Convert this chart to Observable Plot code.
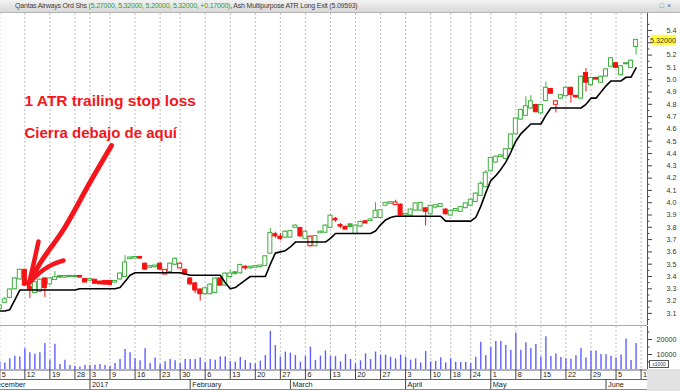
<!DOCTYPE html>
<html><head><meta charset="utf-8">
<script src="https://cdn.jsdelivr.net/npm/d3@7"></script>
<script src="https://cdn.jsdelivr.net/npm/@observablehq/plot@0.6"></script>
<style>
html,body{margin:0;padding:0;background:#fff;}
#wrap{position:relative;width:680px;height:391px;overflow:hidden;font-family:"Liberation Sans",Arial,sans-serif;background:#fff;}
#title{position:absolute;left:0;top:0;width:680px;height:12px;background:linear-gradient(#f3f3f3,#d8d8d8);border-bottom:1px solid #b4b4b4;font-size:7px;line-height:12px;color:#3c3c3c;white-space:nowrap;letter-spacing:-0.2px;}
#title .t{position:absolute;left:15px;top:0;}
#title .gr{color:#2f9e2f;}
#title .ic{position:absolute;right:6px;top:0;color:#666;font-size:7px;letter-spacing:3px;}
.pane{position:absolute;left:0;}
#sep{position:absolute;left:0;top:325px;width:647px;height:1px;background:#a8a8a8;}
#gray{position:absolute;left:647px;top:369px;width:33px;height:22px;background:#e2e2e2;}
#xk{position:absolute;left:649px;top:360px;width:18px;height:6px;border:1px solid #555;font-size:5px;line-height:6px;text-align:center;color:#333;background:#fff;}
</style></head>
<body>
<div id="wrap">
  <div id="title"><span class="t"><span id="t1"></span><span id="t2" class="gr"></span><span id="t3"></span></span><span class="ic">□×</span></div>
  <div id="p1" class="pane" style="top:13px"></div>
  <div id="sep"></div>
  <div id="p2" class="pane" style="top:326px"></div>
  <div id="p3" class="pane" style="top:369px"></div>
  <div id="gray"></div>
  <div id="xk">x1000</div>
</div>
<script>
// ---------- DATA ----------
const holidays = ["2016-12-26","2016-12-27","2017-01-02","2017-01-26","2017-04-14","2017-04-17","2017-04-25"];
const seriesName = "Qantas Airways Ord Shs";
const indicatorName = "Ash Multipurpose ATR Long Exit";
const monthNames = ["2017","February","March","April","May","June","July","August","September","October","November","December"];

const open = [3.14,3.19,3.23,3.30,3.38,3.45,3.31,3.27,3.28,3.38,
3.34,3.375,3.40,3.395,3.40,3.40,3.40,3.375,3.37,3.37,
3.355,3.36,3.36,3.355,3.38,3.40,3.545,3.55,3.555,3.50,
3.475,3.48,3.50,3.42,3.44,3.50,3.47,3.45,3.38,3.34,
3.29,3.26,3.26,3.27,3.38,3.33,3.40,3.43,3.43,3.475,
3.47,3.475,3.48,3.49,3.59,3.74,3.72,3.72,3.72,3.80,
3.79,3.71,3.65,3.65,3.755,3.76,3.80,3.865,3.815,3.80,
3.82,3.75,3.81,3.845,3.855,3.88,3.88,3.98,3.995,3.985,
3.98,3.90,3.90,3.94,3.94,3.95,3.91,3.965,3.97,3.94,
3.90,3.935,3.93,3.96,3.98,4.01,4.06,4.13,4.26,4.33,
4.375,4.36,4.44,4.56,4.68,4.71,4.77,4.79,4.73,4.83,
4.92,4.80,4.85,4.87,4.93,4.865,4.85,5.05,4.96,5.01,
4.98,5.03,5.11,5.13,5.04,5.13,5.10,5.27];
const high = [3.17,3.23,3.30,3.39,3.46,3.46,3.32,3.36,3.38,3.39,
3.39,3.44,3.405,3.405,3.41,3.405,3.41,3.38,3.38,3.375,
3.36,3.365,3.365,3.365,3.43,3.57,3.56,3.56,3.56,3.51,
3.49,3.49,3.51,3.455,3.51,3.55,3.51,3.46,3.39,3.35,
3.30,3.31,3.34,3.39,3.39,3.43,3.45,3.44,3.50,3.49,
3.48,3.49,3.49,3.57,3.79,3.76,3.75,3.77,3.77,3.82,
3.80,3.77,3.73,3.73,3.77,3.82,3.90,3.88,3.83,3.81,
3.83,3.82,3.85,3.85,3.87,4.00,3.94,4.00,4.01,4.02,
3.99,3.91,3.95,4.00,4.00,3.96,3.98,3.98,3.99,3.95,
3.94,3.95,3.97,4.00,4.03,4.08,4.17,4.26,4.37,4.38,
4.39,4.44,4.56,4.69,4.76,4.86,4.87,4.80,4.80,4.98,
4.93,4.83,4.88,4.94,4.94,4.87,5.03,5.09,5.02,5.02,
5.03,5.09,5.18,5.14,5.11,5.14,5.16,5.32];
const low = [3.12,3.18,3.22,3.29,3.37,3.32,3.22,3.26,3.27,3.23,
3.33,3.37,3.385,3.385,3.39,3.39,3.39,3.35,3.365,3.34,
3.335,3.33,3.33,3.35,3.37,3.39,3.54,3.545,3.54,3.45,
3.47,3.47,3.45,3.415,3.43,3.49,3.46,3.41,3.33,3.26,
3.20,3.25,3.25,3.26,3.32,3.32,3.39,3.41,3.42,3.45,
3.46,3.47,3.47,3.48,3.58,3.71,3.69,3.71,3.71,3.79,
3.72,3.70,3.64,3.64,3.75,3.75,3.79,3.84,3.79,3.78,
3.80,3.74,3.80,3.83,3.85,3.87,3.87,3.97,3.99,3.98,
3.89,3.89,3.89,3.93,3.93,3.81,3.90,3.95,3.965,3.90,
3.89,3.93,3.92,3.95,3.97,4.00,4.05,4.12,4.25,4.32,
4.37,4.35,4.43,4.55,4.67,4.70,4.76,4.73,4.72,4.82,
4.88,4.73,4.84,4.86,4.81,4.85,4.84,4.90,4.95,5.00,
4.97,5.02,5.10,5.09,5.03,5.12,5.09,5.20];
const close = [3.16,3.21,3.29,3.38,3.45,3.33,3.30,3.35,3.37,3.31,
3.38,3.39,3.395,3.40,3.40,3.40,3.395,3.355,3.375,3.345,
3.34,3.338,3.335,3.36,3.42,3.51,3.55,3.555,3.55,3.46,
3.48,3.485,3.46,3.45,3.50,3.54,3.50,3.42,3.34,3.29,
3.26,3.30,3.33,3.38,3.33,3.42,3.42,3.425,3.49,3.47,
3.475,3.48,3.485,3.56,3.75,3.73,3.71,3.76,3.765,3.81,
3.73,3.76,3.72,3.725,3.76,3.81,3.89,3.86,3.81,3.785,
3.805,3.81,3.84,3.835,3.86,3.93,3.935,3.995,4.00,3.998,
3.90,3.905,3.94,3.99,3.995,3.93,3.97,3.975,3.985,3.91,
3.93,3.945,3.96,3.99,4.02,4.07,4.15,4.24,4.36,4.37,
4.38,4.43,4.55,4.68,4.75,4.78,4.82,4.74,4.79,4.93,
4.89,4.82,4.87,4.93,4.88,4.86,5.02,4.98,5.01,5.005,
5.02,5.08,5.17,5.10,5.105,5.13,5.15,5.32];
const volume = [5000,4400,7100,8900,8400,13800,11100,10200,11100,17300,
6200,16900,3300,6200,2700,2200,1600,2700,2700,2900,
3300,2700,2200,4000,6700,13300,11100,7100,5800,13800,
4000,7600,3300,5100,6700,5800,4000,6700,6700,6700,
7600,4900,6700,6200,8400,8400,5300,4900,8000,6000,
4200,3600,5600,9300,25300,16000,8200,11600,10900,9300,
4900,8700,14900,6000,8900,12400,8700,8700,5100,10000,
6700,3800,5800,10400,6700,11600,9600,9600,8200,7100,
9600,8200,6200,7100,4400,12000,5100,5300,7800,4400,
7100,4900,4700,4700,4000,8200,18200,9300,14700,18700,
18700,16000,12900,24200,12900,17800,14000,16700,8400,21800,
8700,10400,8000,7100,6900,9100,14000,7600,12000,12400,
10000,9800,8900,7600,9600,20400,6000,17300];
const stop = [3.12,3.12,3.13,3.21,3.29,3.29,3.29,3.29,3.29,3.29,
3.29,3.29,3.29,3.29,3.29,3.29,3.30,3.30,3.30,3.30,
3.30,3.30,3.30,3.30,3.31,3.36,3.41,3.43,3.43,3.43,
3.43,3.43,3.43,3.43,3.43,3.43,3.43,3.42,3.41,3.41,
3.41,3.41,3.41,3.41,3.41,3.35,3.30,3.31,3.34,3.37,
3.40,3.40,3.40,3.40,3.50,3.59,3.60,3.61,3.64,3.68,
3.68,3.68,3.68,3.68,3.68,3.68,3.71,3.75,3.75,3.75,
3.75,3.75,3.75,3.75,3.75,3.77,3.82,3.86,3.88,3.89,
3.89,3.89,3.89,3.89,3.89,3.89,3.89,3.89,3.89,3.85,
3.85,3.85,3.85,3.85,3.85,3.88,3.97,4.08,4.18,4.22,
4.27,4.33,4.41,4.50,4.56,4.60,4.64,4.64,4.64,4.71,
4.77,4.77,4.77,4.77,4.77,4.77,4.77,4.80,4.85,4.85,
4.90,4.95,4.99,4.99,4.99,5.02,5.02,5.09593];

const priceTicks = [3.1,3.2,3.3,3.4,3.5,3.6,3.7,3.8,3.9,4.0,4.1,4.2,4.3,4.4,4.5,4.6,4.7,4.8,4.9,5.0,5.1,5.2,5.3,5.4];
const priceMinorTicks = [3.05,3.15,3.25,3.35,3.45,3.55,3.65,3.75,3.85,3.95,4.05,4.15,4.25,4.35,4.45,4.55,4.65,4.75,4.85,4.95,5.05,5.15,5.25,5.35,5.45];
const volumeTicks = [10000,20000];
const volumeMinorTicks = [5000,15000,25000];

// annotations (in calendar-index / price units)
const note1 = "1 ATR trailing stop loss";
const note2 = "Cierra debajo de aquí";
const notePos = [{x: 6.93, y1: 4.790, y2: 4.522}];
const arrowShaft = [[24.30,4.465],[20.10,4.172],[14.72,3.782],[10.52,3.538],[7.73,3.343]];
const arrowLeft = [[9.72,3.685],[8.93,3.538],[7.93,3.359]];
const arrowRight = [[14.72,3.530],[12.52,3.498],[10.52,3.449],[8.73,3.384],[7.73,3.343]];

// ---------- CALENDAR ----------
const fmt = d3.utcFormat("%Y-%m-%d");
const cal = d3.utcDays(new Date(Date.UTC(2016,11,1)), new Date(Date.UTC(2017,5,13)))
  .filter(d => d.getUTCDay() !== 0 && d.getUTCDay() !== 6 && !holidays.includes(fmt(d)));
const first = cal.findIndex(d => fmt(d) === "2016-12-05");
const weekIdx = d3.range(cal.length).filter(k => k === 0 || +d3.utcMonday.floor(cal[k]) !== +d3.utcMonday.floor(cal[k-1]));
const monthIdx = d3.range(cal.length).filter(k => k === 0 || cal[k].getUTCMonth() !== cal[k-1].getUTCMonth());
const monthLabel = k => { const m = cal[k].getUTCMonth(); return m === 11 ? "December" : monthNames[m]; };

const candles = open.map((o, k) => ({
  i: first + k, o, h: high[k], l: low[k], c: close[k], v: volume[k], s: stop[k],
  hollow: close[k] >= o,
  gain: k === 0 ? true : close[k] >= close[k-1]
}));

// ---------- STYLE ----------
const GREEN = "#3fae3f", RED = "#f51212", BLUE = "#5f5fff", GRID = "#bdbdbd", NOTE = "#f3161c";
const xDomain = [2.14, 131.28];
const xEnd = xDomain[1];
const font = '"Liberation Sans", Arial, sans-serif';
const base = {
  width: 680, marginLeft: 0, marginRight: 33,
  x: {type: "linear", domain: xDomain, axis: null, label: null},
  style: {fontFamily: font, fontSize: "7.2px", color: "#333", background: "transparent", overflow: "hidden"}
};

// title
const last = candles[candles.length-1], prev = candles[candles.length-2];
const chg = last.c - prev.c;
document.getElementById("t1").textContent = seriesName + " ";
document.getElementById("t2").textContent = "(" + [last.o,last.h,last.l,last.c].map(v => v.toFixed(5)).join(", ") + ", " + (chg >= 0 ? "+" : "") + chg.toFixed(5) + ")";
document.getElementById("t3").textContent = ", " + indicatorName + " (" + stop[stop.length-1].toFixed(5) + ")";

const yDomain = [3.0016, 5.5382];
const bodyOpts = (f) => ({
  filter: f, x1: d => d.i - 0.4, x2: d => d.i + 0.4, y1: "o", y2: "c",
  insetTop: -0.5, insetBottom: -0.5, strokeWidth: 1
});
const tickMarks = (values, len) => Plot.ruleY(values, {x1: xEnd, x2: xEnd, insetRight: -len, stroke: "#444"});
const labelledTicks = priceTicks.filter(t => Math.abs(t - last.c) > 0.05);

const price = Plot.plot({
  ...base, height: 312, marginTop: 0, marginBottom: 0,
  y: {domain: yDomain, axis: null, label: null},
  marks: [
    Plot.ruleX(weekIdx, {stroke: GRID, strokeDasharray: "2,2"}),
    Plot.ruleX(candles, {filter: d => d.gain, x: "i", y1: "l", y2: "h", stroke: GREEN}),
    Plot.ruleX(candles, {filter: d => !d.gain, x: "i", y1: "l", y2: "h", stroke: RED}),
    Plot.rect(candles, {...bodyOpts(d => d.gain && d.hollow), fill: "white", stroke: GREEN}),
    Plot.rect(candles, {...bodyOpts(d => d.gain && !d.hollow), fill: GREEN, stroke: GREEN}),
    Plot.rect(candles, {...bodyOpts(d => !d.gain && d.hollow), fill: "white", stroke: RED}),
    Plot.rect(candles, {...bodyOpts(d => !d.gain && !d.hollow), fill: RED, stroke: RED}),
    Plot.line(candles, {x: "i", y: "s", stroke: "black", strokeWidth: 1.6}),
    Plot.text(notePos, {x: "x", y: "y1", text: () => note1, textAnchor: "start", lineAnchor: "bottom", fill: NOTE, fontSize: 15.5, fontWeight: "bold", fontFamily: font}),
    Plot.text(notePos, {x: "x", y: "y2", text: () => note2, textAnchor: "start", lineAnchor: "bottom", fill: NOTE, fontSize: 15, fontWeight: "bold", fontFamily: font}),
    Plot.line(arrowShaft, {x: "0", y: "1", stroke: NOTE, strokeWidth: 5, strokeLinecap: "round", curve: "catmull-rom"}),
    Plot.line(arrowLeft, {x: "0", y: "1", stroke: NOTE, strokeWidth: 4.5, strokeLinecap: "round", curve: "catmull-rom"}),
    Plot.line(arrowRight, {x: "0", y: "1", stroke: NOTE, strokeWidth: 4.5, strokeLinecap: "round", curve: "catmull-rom"}),
    Plot.ruleX([xEnd], {stroke: "#555"}),
    tickMarks(priceTicks, 5),
    tickMarks(priceMinorTicks, 2.5),
    Plot.axisY({anchor: "right", label: null, ticks: labelledTicks, tickSize: 0, tickPadding: 29, textAnchor: "end", tickFormat: d3.format(".1f"), fill: "#333", stroke: "none"}),
    Plot.rect([last.c], {x1: xEnd, x2: xEnd, y1: d => d, y2: d => d, insetLeft: 4, insetRight: -29, insetTop: -5, insetBottom: -5, fill: "#ffff33"}),
    Plot.text([last.c], {x: xEnd, y: d => d, text: d => d.toFixed(5), textAnchor: "end", dx: 28.5, fill: "#333"})
  ]
});
document.getElementById("p1").append(price);

const vol = Plot.plot({
  ...base, height: 43, marginTop: 0, marginBottom: 0,
  y: {domain: [0, 28667], axis: null, label: null},
  marks: [
    Plot.ruleX(weekIdx, {stroke: GRID, strokeDasharray: "2,2"}),
    Plot.ruleX(candles, {x: "i", y1: 0, y2: "v", stroke: BLUE, strokeWidth: 1.4}),
    Plot.ruleX([xEnd], {stroke: "#555"}),
    tickMarks(volumeTicks, 5),
    tickMarks(volumeMinorTicks, 2.5),
    Plot.axisY({anchor: "right", label: null, ticks: volumeTicks, tickSize: 0, tickPadding: 29, textAnchor: "end", tickFormat: d => String(d), fill: "#333", stroke: "none"})
  ]
});
document.getElementById("p2").append(vol);

const dates = Plot.plot({
  ...base, height: 22, marginTop: 0, marginBottom: 0,
  y: {domain: [0, 2.2], axis: null, label: null},
  marks: [
    Plot.ruleY([2.2], {stroke: "#666", dy: 0.5}),
    Plot.ruleX(weekIdx, {y1: 1.2, y2: 2.2, stroke: "#444"}),
    Plot.text(weekIdx, {x: d => d, y: 1.7, text: d => String(cal[d].getUTCDate()), textAnchor: "start", dx: 2, fill: "#222", fontSize: 7.3}),
    Plot.ruleY([1.2], {stroke: "#666"}),
    Plot.ruleX(monthIdx, {y1: 0.2, y2: 1.2, stroke: "#444"}),
    Plot.text(monthIdx, {x: d => d, y: 0.7, text: monthLabel, textAnchor: "start", dx: 2, fill: "#222", fontSize: 7.3}),
    Plot.ruleY([0.2], {stroke: "#888"})
  ]
});
document.getElementById("p3").append(dates);
</script>
</body></html>
